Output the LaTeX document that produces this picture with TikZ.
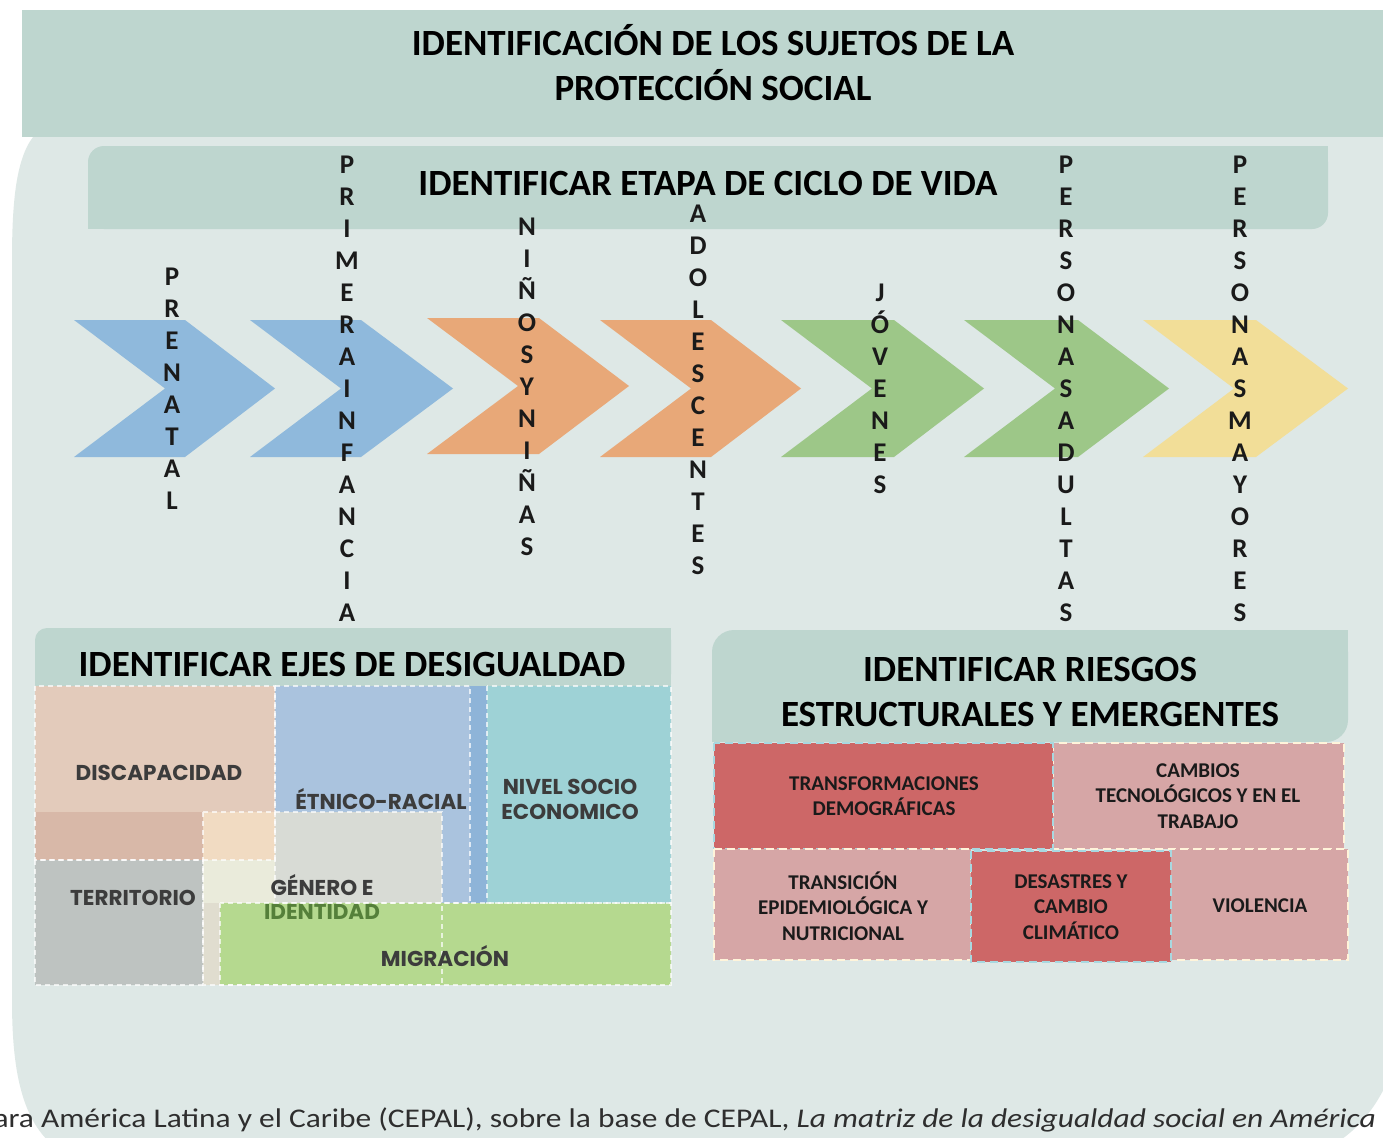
\documentclass[tikz,border=0pt]{standalone}
\usepackage{fontspec}
\setmainfont{Carlito}
\newfontfamily\mosaicfont{Poppins}
\definecolor{panel}{HTML}{DEE8E6}
\definecolor{band}{HTML}{BED6CF}
\definecolor{cblue}{HTML}{8FB9DC}
\definecolor{corange}{HTML}{E8A878}
\definecolor{cgreen}{HTML}{9DC788}
\definecolor{cyellow}{HTML}{F2DE98}
\definecolor{discA}{HTML}{E3CBBB}
\definecolor{discB}{HTML}{D8B8A8}
\definecolor{peach}{HTML}{F1DBC2}
\definecolor{etnico}{HTML}{AAC3DE}
\definecolor{etstrip}{HTML}{8EB4D8}
\definecolor{nivel}{HTML}{9ED2D6}
\definecolor{territ}{HTML}{BEC3C1}
\definecolor{genero}{HTML}{D8DBD5}
\definecolor{generoL}{HTML}{EAEBDB}
\definecolor{generoS}{HTML}{E0DDCF}
\definecolor{migra}{HTML}{B5D98F}
\definecolor{idgreen}{HTML}{55803A}
\definecolor{rdark}{HTML}{CD6767}
\definecolor{rlight}{HTML}{D6A6A6}
\definecolor{dashblue}{HTML}{A8D8E0}
\definecolor{dashcream}{HTML}{FFF4DA}
\definecolor{txt}{HTML}{1A1A1A}
\definecolor{captxt}{HTML}{2E2E2E}
\tikzset{
  vlabel/.style={font=\bfseries\fontsize{27}{32}\selectfont, align=center, inner sep=0pt, text=txt},
  htitle/.style={font=\bfseries\fontsize{37}{45}\selectfont, align=center, inner sep=0pt, text=black},
  mtext/.style={font=\mosaicfont\bfseries\fontsize{21.5}{25}\selectfont, align=center, inner sep=0pt, text=txt!85},
  rtext/.style={font=\bfseries\fontsize{21}{25.5}\selectfont, align=center, inner sep=0pt, text=txt},
  mdash/.style={draw=white, draw opacity=0.7, line width=1.2pt, dash pattern=on 5pt off 4pt},
  rdashD/.style={fill=rdark, draw=dashblue, line width=1.8pt, dash pattern=on 8pt off 5pt},
  rdashL/.style={fill=rlight, draw=dashcream, line width=1.8pt, dash pattern=on 8pt off 5pt}
}
\begin{document}
\begin{tikzpicture}[x=1pt,y=-1pt]
\useasboundingbox (0,0) rectangle (1383,1137);
\begin{scope}
\clip (0,0) rectangle (1383,1137);
\fill[white] (0,0) rectangle (1383,1137);
% light panel
\fill[panel] (1400,120) -- (70,120) .. controls (22,120) and (12,170) .. (12,260) -- (12,1000)
  .. controls (12,1090) and (28,1137) .. (75,1160) -- (1300,1160) .. controls (1360,1140) and (1383,1100) .. (1400,1050) -- cycle;
% title band
\fill[band] (22,10) rectangle (1400,137);
\node[htitle] (title) at (713,63) {IDENTIFICACIÓN DE LOS SUJETOS DE LA\\PROTECCIÓN SOCIAL};
% ciclo band
\fill[band, rounded corners=16] (88,146) rectangle (1328,229);
\fill[band] (88,200) rectangle (120,229);
\fill[band] (1290,146) rectangle (1328,180);
\node[htitle] (ciclo) at (708,183) {IDENTIFICAR ETAPA DE CICLO DE VIDA};
% chevrons
\fill[cblue] (74,320) -- ++(111,0) -- ++(90,68.5) -- ++(-90,68.5) -- ++(-111,0) -- ++(91,-68.5) -- cycle;
\fill[cblue] (250,320) -- ++(111,0) -- ++(92,68.5) -- ++(-92,68.5) -- ++(-111,0) -- ++(91,-68.5) -- cycle;
\fill[corange] (427,318) -- ++(112,0) -- ++(90,68) -- ++(-90,68) -- ++(-112,0) -- ++(91,-68) -- cycle;
\fill[corange] (600,320) -- ++(111,0) -- ++(90,68.5) -- ++(-90,68.5) -- ++(-111,0) -- ++(91,-68.5) -- cycle;
\fill[cgreen] (781,320) -- ++(113,0) -- ++(90,68.5) -- ++(-90,68.5) -- ++(-113,0) -- ++(91,-68.5) -- cycle;
\fill[cgreen] (964,320) -- ++(114,0) -- ++(91,68.5) -- ++(-91,68.5) -- ++(-114,0) -- ++(91,-68.5) -- cycle;
\fill[cyellow] (1143,320) -- ++(113,0) -- ++(92,68.5) -- ++(-92,68.5) -- ++(-113,0) -- ++(91,-68.5) -- cycle;
% vertical labels
\node[vlabel] (prenatal) at (172,389) {P\\R\\E\\N\\A\\T\\A\\L};
\node[vlabel] (infancia) at (347,389) {P\\R\\I\\M\\E\\R\\A\\I\\N\\F\\A\\N\\C\\I\\A};
\node[vlabel] (ninos) at (527,387) {N\\I\\Ñ\\O\\S\\Y\\N\\I\\Ñ\\A\\S};
\node[vlabel] (adolesc) at (698,390) {A\\D\\O\\L\\E\\S\\C\\E\\N\\T\\E\\S};
\node[vlabel] (jovenes) at (880,389) {J\\Ó\\V\\E\\N\\E\\S};
\node[vlabel] (adultas) at (1066,389) {P\\E\\R\\S\\O\\N\\A\\S\\A\\D\\U\\L\\T\\A\\S};
\node[vlabel] (mayores) at (1240,389) {P\\E\\R\\S\\O\\N\\A\\S\\M\\A\\Y\\O\\R\\E\\S};
% ejes de desigualdad header
\fill[band, rounded corners=12] (35,628) rectangle (671,686);
\fill[band] (35,660) rectangle (60,686);
\fill[band] (640,628) rectangle (671,686);
\node[htitle] (ejes) at (352,664) {IDENTIFICAR EJES DE DESIGUALDAD};
% mosaic
\fill[discA] (35,686) rectangle (275,860);
\fill[discB] (35,812) rectangle (203,860);
\fill[etnico] (275,686) rectangle (470,903);
\fill[etstrip] (470,686) rectangle (487,903);
\fill[nivel] (487,686) rectangle (671,903);
\fill[territ] (35,860) rectangle (203,985);
\fill[genero] (275,812) rectangle (442,903);
\fill[peach] (203,812) rectangle (275,860);
\fill[generoL] (203,860) rectangle (275,903);
\fill[generoS] (203,903) rectangle (220,985);
\fill[migra] (220,903) rectangle (671,985);
\draw[mdash] (35,686) rectangle (275,860);
\draw[mdash] (275,686) rectangle (470,903);
\draw[mdash] (487,686) rectangle (671,903);
\draw[mdash] (35,860) rectangle (203,985);
\draw[mdash] (203,812) rectangle (442,985);
\draw[mdash] (220,903) rectangle (671,985);
\node[mtext] (disc) at (159,773) {DISCAPACIDAD};
\node[mtext] (etn) at (381,799) {ÉTNICO-RACIAL};
\node[mtext] (niv) at (570,799) {NIVEL SOCIO\\ECONOMICO};
\node[mtext] (terr) at (133,898) {TERRITORIO};
\node[mtext] (gen) at (322,885) {GÉNERO E};
\node[mtext, text=idgreen] (ident) at (322,912) {IDENTIDAD};
\node[mtext] (migr) at (445,956) {MIGRACIÓN};
% riesgos header
\fill[band, rounded corners=22] (712,630) rectangle (1348,742);
\fill[band] (1310,630) rectangle (1348,660);
\fill[band] (712,710) rectangle (740,742);
\node[htitle] (riesgos) at (1030,692) {IDENTIFICAR RIESGOS\\ESTRUCTURALES Y EMERGENTES};
% risk tiles
\path[rdashL] (1053,743) rectangle (1344,849);
\path[rdashD] (714,743) rectangle (1053,849);
\path[rdashL] (714,849) rectangle (971,960);
\path[rdashL] (1171,849) rectangle (1348,960);
\path[rdashD] (971,851) rectangle (1171,962);
\node[rtext] (transf) at (884,796) {TRANSFORMACIONES\\DEMOGRÁFICAS};
\node[rtext] (cambios) at (1198,796) {CAMBIOS\\TECNOLÓGICOS Y EN EL\\TRABAJO};
\node[rtext] (transic) at (843,906) {TRANSICIÓN\\EPIDEMIOLÓGICA Y\\NUTRICIONAL};
\node[rtext] (desastres) at (1071,907) {DESASTRES Y\\CAMBIO\\CLIMÁTICO};
\node[rtext] (violencia) at (1260,906) {VIOLENCIA};
% caption
\node[anchor=base east, inner sep=0pt, font=\fontsize{27}{30}\selectfont, text=captxt] (caption) at (1376,1127)
  {\scalebox{1.165}[1]{ara América Latina y el Caribe (CEPAL), sobre la base de CEPAL, \textit{La matriz de la desigualdad social en América}}};
\end{scope}
\end{tikzpicture}
\end{document}
